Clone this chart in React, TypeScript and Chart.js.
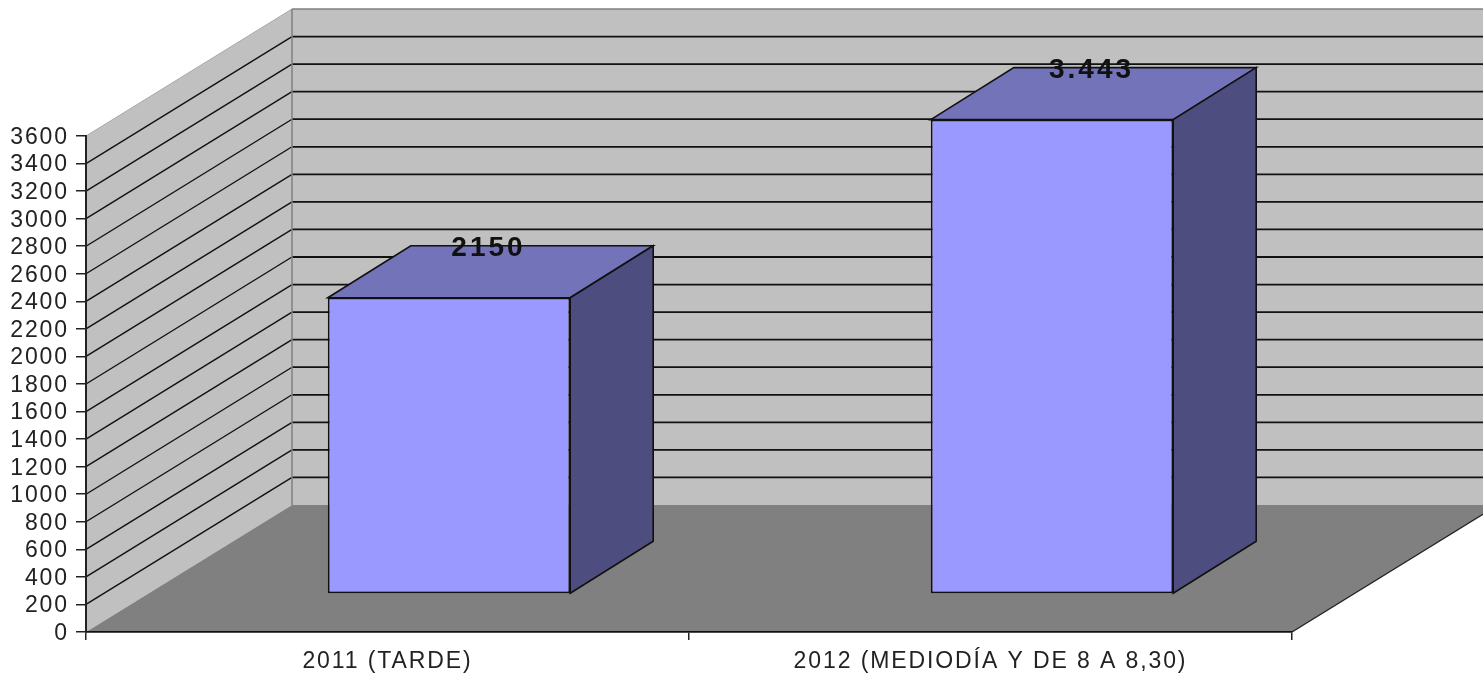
import React, { useEffect, useRef } from "react";
import { Chart, registerables } from "chart.js";

Chart.register(...registerables);

const categories = ["2011 (TARDE)", "2012 (MEDIODÍA Y DE 8 A 8,30)"];
const values = [2150, 3443];
const valueLabels = ["2150", "3.443"];
const axisMax = 3600;
const axisStep = 200;

const WALL_DX = 206;
const WALL_DY = 127;
const BAR_DX = 61.5;
const BAR_DY = 38;
const BAR_DEPTH_X = 83;
const BAR_DEPTH_Y = 52;
const FONT = "'Liberation Sans', Arial, sans-serif";

const poly = (ctx: any, pts: number[][], fill: string | null, stroke?: string, lw = 1) => {
  ctx.beginPath();
  pts.forEach((p, i) => (i ? ctx.lineTo(p[0], p[1]) : ctx.moveTo(p[0], p[1])));
  ctx.closePath();
  if (fill) {
    ctx.fillStyle = fill;
    ctx.fill();
  }
  if (stroke) {
    ctx.strokeStyle = stroke;
    ctx.lineWidth = lw;
    ctx.stroke();
  }
};

const line = (ctx: any, a: number[], b: number[], color: string, lw: number) => {
  ctx.beginPath();
  ctx.moveTo(a[0], a[1]);
  ctx.lineTo(b[0], b[1]);
  ctx.strokeStyle = color;
  ctx.lineWidth = lw;
  ctx.stroke();
};

const box3d = {
  id: "box3d",
  beforeDraw(chart: any) {
    const { ctx, chartArea: a, scales } = chart;
    const y = scales.y;
    ctx.save();
    const l = a.left, r = a.right, t = a.top, b = a.bottom;
    poly(ctx, [[l, t], [l + WALL_DX, t - WALL_DY], [l + WALL_DX, b - WALL_DY], [l, b]], "#C0C0C0");
    poly(ctx, [[l + WALL_DX, t - WALL_DY], [r + WALL_DX, t - WALL_DY], [r + WALL_DX, b - WALL_DY], [l + WALL_DX, b - WALL_DY]], "#C0C0C0");
    poly(ctx, [[l, b], [l + WALL_DX, b - WALL_DY], [r + WALL_DX, b - WALL_DY], [r, b]], "#808080");
    for (let v = axisStep; v < axisMax; v += axisStep) {
      const py = y.getPixelForValue(v);
      line(ctx, [l, py], [l + WALL_DX, py - WALL_DY], "#111", 1.4);
      line(ctx, [l + WALL_DX, py - WALL_DY], [r + WALL_DX, py - WALL_DY], "#111", 1.8);
    }
    line(ctx, [l, t], [l + WALL_DX, t - WALL_DY], "#A8A8A8", 1);
    line(ctx, [l + WALL_DX, t - WALL_DY], [r + WALL_DX, t - WALL_DY], "#808080", 1.5);
    line(ctx, [l + WALL_DX, t - WALL_DY], [l + WALL_DX, b - WALL_DY], "#808080", 1.5);
    line(ctx, [r, b], [r + WALL_DX, b - WALL_DY], "#222", 1.4);
    ctx.restore();
    ctx.letterSpacing = "1.9px";
  },
  beforeDatasetDraw(chart: any, args: any) {
    const { ctx } = chart;
    ctx.save();
    ctx.translate(BAR_DX, -BAR_DY);
    chart.getDatasetMeta(args.index).data.forEach((el: any) => {
      const { x, y, base, width } = el.getProps(["x", "y", "base", "width"], true);
      const l = x - width / 2, r = x + width / 2;
      poly(ctx, [[l, y], [l + BAR_DEPTH_X, y - BAR_DEPTH_Y], [r + BAR_DEPTH_X, y - BAR_DEPTH_Y], [r, y]], "#7373B9", "#111", 1.6);
      poly(ctx, [[r, y], [r + BAR_DEPTH_X, y - BAR_DEPTH_Y], [r + BAR_DEPTH_X, base - BAR_DEPTH_Y], [r, base]], "#4D4D80", "#111", 1.6);
    });
  },
  afterDatasetDraw(chart: any) {
    chart.ctx.restore();
  },
  afterDatasetsDraw(chart: any) {
    const { ctx } = chart;
    ctx.save();
    ctx.font = `bold 28px ${FONT}`;
    ctx.letterSpacing = "3px";
    ctx.fillStyle = "#111";
    ctx.textAlign = "center";
    ctx.textBaseline = "middle";
    chart.getDatasetMeta(0).data.forEach((el: any, i: number) => {
      const { x, y } = el.getProps(["x", "y"], true);
      ctx.fillText(valueLabels[i], x + BAR_DX + BAR_DEPTH_X / 2 - 2, y - BAR_DY - BAR_DEPTH_Y + 3);
    });
    ctx.restore();
  },
};

export default function App() {
  const ref = useRef<HTMLCanvasElement>(null);
  useEffect(() => {
    const chart = new Chart(ref.current as HTMLCanvasElement, {
      type: "bar",
      data: {
        labels: categories,
        datasets: [
          {
            data: values,
            backgroundColor: "#9999FF",
            borderColor: "#111",
            borderWidth: 1.8,
            borderSkipped: false,
            barPercentage: 0.402,
            categoryPercentage: 1,
            clip: false,
          } as any,
        ],
      },
      options: {
        animation: false,
        responsive: false,
        layout: { padding: { top: 136, right: 191, left: 0, bottom: 0 } },
        plugins: { legend: { display: false }, tooltip: { enabled: false } },
        scales: {
          x: {
            afterFit: (s: any) => { s.height = 42; },
            grid: { drawOnChartArea: false, color: "#222", lineWidth: 1.5, tickLength: 8 },
            border: { color: "#111", width: 1.8 },
            ticks: { color: "#222", font: { family: FONT, size: 23 }, padding: 8, maxRotation: 0, autoSkip: false },
          },
          y: {
            min: 0,
            max: axisMax,
            afterFit: (s: any) => { s.width = 86; },
            grid: { drawOnChartArea: false, color: "#222", lineWidth: 1.5, tickLength: 10 },
            border: { color: "#222", width: 2 },
            ticks: { stepSize: axisStep, color: "#222", font: { family: FONT, size: 23 }, padding: 7, labelOffset: 1.5, autoSkip: false, callback: (v: any) => String(v) },
          },
        },
      },
      plugins: [box3d],
    } as any);
    return () => chart.destroy();
  }, []);
  return (
    <div style={{ position: "fixed", left: 0, top: 0 }}>
      <canvas ref={ref} width={1483} height={674} style={{ display: "block", filter: "blur(0.4px)" }} />
    </div>
  );
}
